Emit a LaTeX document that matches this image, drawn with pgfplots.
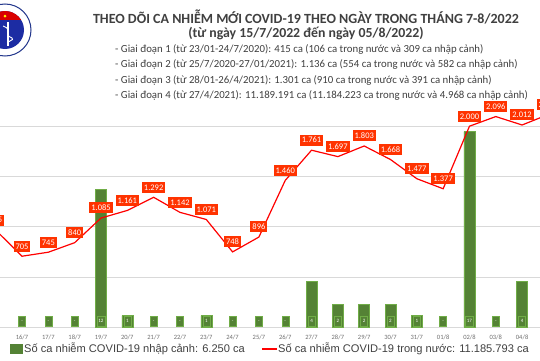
\documentclass[border=0pt]{standalone}
\usepackage{fontspec}
\setmainfont{Carlito}
\newfontfamily\arialf{Liberation Sans}
\usepackage{pgfplots}
\pgfplotsset{compat=1.18}
\definecolor{barg}{RGB}{84,130,53}
\definecolor{barb}{RGB}{112,173,71}
\definecolor{lab}{RGB}{255,51,0}
\definecolor{gridc}{RGB}{217,217,217}
\definecolor{txt}{RGB}{64,64,64}
\definecolor{tickc}{RGB}{110,110,110}
\definecolor{navy}{RGB}{35,55,140}
\begin{document}
\begin{tikzpicture}[x=1pt,y=1pt]
\useasboundingbox (0,0) rectangle (540,360);
\fill[white] (0,0) rectangle (540,360);
% logo
\draw[navy, line width=1pt, fill=white] (5,330) circle (26);
\begin{scope}
\clip (5,330) circle (19);
\fill[navy!80!blue] (-30,300) rectangle (40,360);
\fill[red!85!black] (-30,340) rectangle (40,360);
\fill[yellow] (5,344) circle (1.5);
\end{scope}
\draw[white, line width=1.2pt] (8,338) -- (8,314);
\draw[white, line width=0.9pt] (3,334) .. controls (14,330) and (2,326) .. (12,322) .. controls (16,320) and (4,318) .. (8,316);
% titles
\node[font=\bfseries\fontsize{14}{16}\selectfont, text=txt] at (306,343) {THEO DÕI CA NHIỄM MỚI COVID-19 THEO NGÀY TRONG THÁNG 7-8/2022};
\node[font=\bfseries\fontsize{13.8}{16}\selectfont, text=txt] at (306,327) {(từ ngày 15/7/2022 đến ngày 05/8/2022)};
\begin{scope}[every node/.style={anchor=west, font=\fontsize{10.8}{12}\selectfont, text=txt, inner sep=0pt}]
\node at (115,311) {- Giai đoạn 1 (từ 23/01-24/7/2020): 415 ca (106 ca trong nước và 309 ca nhập cảnh)};
\node at (115,296) {- Giai đoạn 2 (từ 25/7/2020-27/01/2021): 1.136 ca (554 ca trong nước và 582 ca nhập cảnh)};
\node at (115,280) {- Giai đoạn 3 (từ 28/01-26/4/2021): 1.301 ca (910 ca trong nước và 391 ca nhập cảnh)};
\node at (115,265) {- Giai đoạn 4 (từ 27/4/2021): 11.189.191 ca (11.184.223 ca trong nước và 4.968 ca nhập cảnh)};
\end{scope}
\pgfplotsset{geom/.style={at={(0pt,33pt)}, anchor=south west, scale only axis, width=540pt, height=251pt, xmin=0.163, xmax=20.68, clip=false}}
% grid + ticks
\begin{axis}[geom, ymin=0, ymax=2500, axis line style={draw=none},
  ytick={0,500,1000,1500,2000}, yticklabels={}, ymajorgrids, grid style={gridc, line width=0.6pt},
  major tick length=0pt, xtick={0,...,21},
  xticklabels={15/7,16/7,17/7,18/7,19/7,20/7,21/7,22/7,23/7,24/7,25/7,26/7,27/7,28/7,29/7,30/7,31/7,01/8,02/8,03/8,04/8,05/8},
  x tick label style={font=\fontsize{6.5}{7}\selectfont, text=tickc, yshift=-4pt}]
\addplot[draw=none, mark=none] coordinates {(1,0)};
\end{axis}
% bars
\begin{axis}[geom, ymin=0, ymax=21.83, hide axis]
\addplot[ybar, bar width=11pt, fill=barg, draw=barb, line width=0.5pt] coordinates {
(4,12) (5,1) (8,1) (12,4) (13,2) (14,2) (15,2) (16,1) (18,17) (20,4)};
\addplot[draw=none, mark=none, point meta=explicit symbolic, nodes near coords,
  every node near coord/.style={anchor=south, fill=barg, draw=barb, line width=0.4pt, text=white,
    font=\fontsize{5}{5}\selectfont, inner xsep=1.5pt, text height=3.6pt, text depth=0pt, inner ysep=3.4pt, minimum width=7pt, yshift=0.5pt}]
coordinates {(1,0)[-] (2,0)[-] (3,0)[-] (4,0)[12] (5,0)[1] (6,0)[-] (7,0)[-] (8,0)[1] (9,0)[-] (10,0)[-]
(11,0)[-] (12,0)[4] (13,0)[2] (14,0)[2] (15,0)[2] (16,0)[1] (17,0)[-] (18,0)[17] (19,0)[-] (20,0)[4]};
\end{axis}
% line
\begin{axis}[geom, ymin=0, ymax=2500, hide axis]
\addplot[red, line width=1.2pt, mark=none, point meta=explicit symbolic, nodes near coords,
  every node near coord/.style={anchor=south, fill=lab, text=white, font=\fontsize{8.5}{8.5}\selectfont,
    inner xsep=2pt, text height=5.8pt, text depth=0pt, inner ysep=2.6pt, yshift=4pt}]
coordinates {(0,965)[965] (1,705)[705] (2,745)[745] (3,840)[840] (4,1085)[1.085] (5,1161)[1.161]
(6,1292)[1.292] (7,1142)[1.142] (8,1071)[1.071] (9,748)[748] (10,896)[896] (11,1460)[1.460]
(12,1761)[1.761] (13,1697)[1.697] (14,1803)[1.803] (15,1668)[1.668] (16,1477)[1.477] (17,1377)[1.377]
(18,2000)[2.000] (19,2096)[2.096] (20,2012)[2.012] (21,2117)[2.117]};
\end{axis}
% legend
\fill[barg] (10,6) rectangle (23,16);
\node[anchor=west, font=\arialf\fontsize{11.1}{12}\selectfont, text=txt, inner sep=0pt] at (24,11) {Số ca nhiễm COVID-19 nhập cảnh: 6.250 ca};
\draw[red, line width=1.3pt] (262,11) -- (277,11);
\node[anchor=west, font=\arialf\fontsize{11.1}{12}\selectfont, text=txt, inner sep=0pt] at (278,11) {Số ca nhiễm COVID-19 trong nước: 11.185.793 ca};
\end{tikzpicture}
\end{document}
